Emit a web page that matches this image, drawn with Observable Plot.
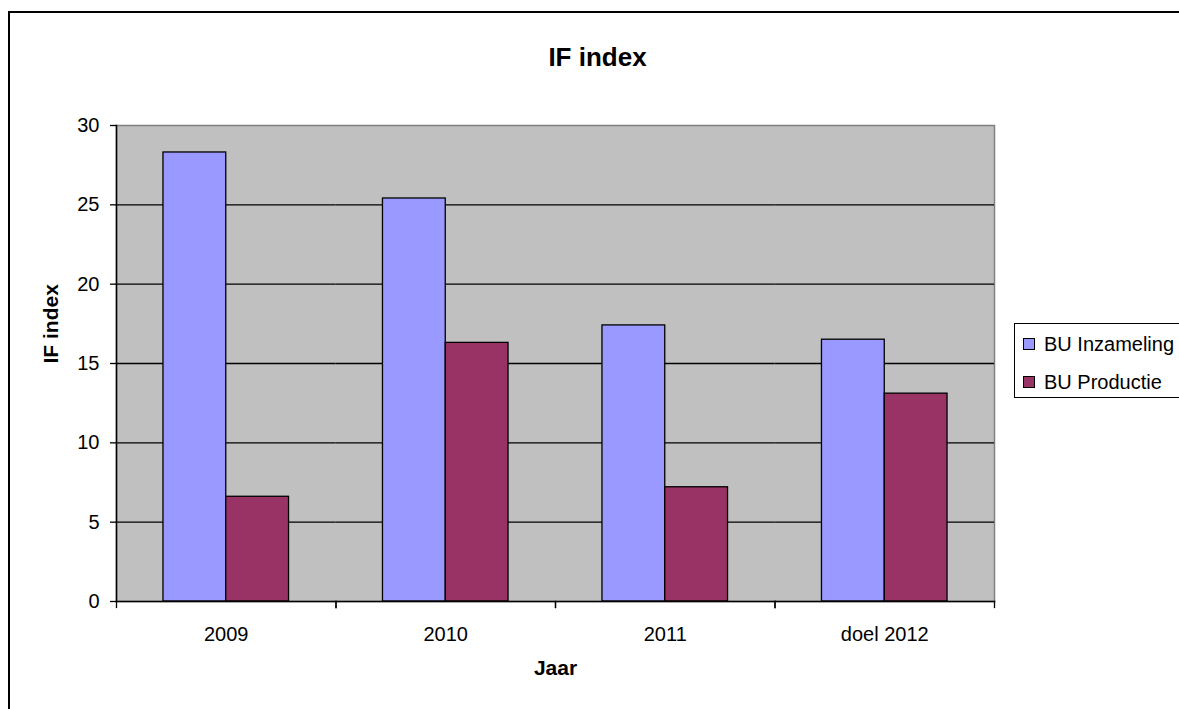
<!DOCTYPE html>
<html>
<head>
<meta charset="utf-8">
<script src="https://cdn.jsdelivr.net/npm/d3@7"></script>
<script src="https://cdn.jsdelivr.net/npm/@observablehq/plot@0.6"></script>
<style>
  html, body { margin: 0; padding: 0; background: #fff; }
  body { font-family: "Liberation Sans", Arial, sans-serif; }
  #wrap { position: relative; width: 1179px; height: 709px; overflow: hidden; }
  #border { position: absolute; left: 8px; top: 11px; width: 1300px; height: 800px;
            border-left: 2px solid #000; border-top: 2px solid #000; box-sizing: border-box; }
  #chart { position: absolute; left: 0; top: 0; }
  #legend { position: absolute; left: 1014px; top: 323px; width: 200px; height: 75px;
            border: 1px solid #000; box-sizing: border-box; background: #fff; }
  .item { position: absolute; left: 8px; height: 24px; display: flex; align-items: center;
          font-size: 20px; color: #000; white-space: nowrap; }
  .sw { width: 10px; height: 10px; border: 1px solid #000; margin-right: 9px; }
</style>
</head>
<body>
<div id="wrap">
  <div id="border"></div>
  <div id="chart"></div>
  <div id="legend"></div>
</div>
<script>
const years = ["2009", "2010", "2011", "doel 2012"];
const series = ["BU Inzameling", "BU Productie"];
const inzameling = [28.3, 25.4, 17.4, 16.5];
const productie = [6.6, 16.3, 7.2, 13.1];
const colors = ["#9999ff", "#993366"];
const yTicks = [0, 5, 10, 15, 20, 25, 30];
const gridTicks = [5, 10, 15, 20, 25];
const title = "IF index";
const yLabel = "IF index";
const xLabel = "Jaar";

const data = [];
years.forEach((yr, i) => {
  data.push({year: yr, series: series[0], value: inzameling[i]});
  data.push({year: yr, series: series[1], value: productie[i]});
});

const W = 1179, H = 709;
const mL = 116, mR = 185, mT = 125, mB = 108;
const plotH = H - mT - mB;

const chart = Plot.plot({
  width: W,
  height: H,
  marginLeft: mL,
  marginRight: mR,
  marginTop: mT,
  marginBottom: mB,
  style: {fontFamily: "'Liberation Sans', Arial, sans-serif", color: "#000", background: "transparent"},
  fx: {domain: years, padding: 0, axis: null, round: false},
  x: {type: "band", domain: series, paddingInner: 0, paddingOuter: 0.748, axis: null, round: false},
  y: {domain: [0, 30], axis: null},
  color: {domain: series, range: colors},
  marks: [
    Plot.frame({facet: "super", fill: "#c0c0c0", stroke: "#808080", strokeWidth: 1.5}),
    Plot.ruleY(gridTicks, {stroke: "#000", strokeWidth: 1.3}),
    Plot.barY(data, {fx: "year", x: "series", y: "value", fill: "series", stroke: "#000", strokeWidth: 1.3}),
    Plot.frame({facet: "super", anchor: "left", stroke: "#000", strokeWidth: 1.5}),
    Plot.frame({facet: "super", anchor: "bottom", stroke: "#000", strokeWidth: 1.5}),
    Plot.frame({anchor: "left", stroke: "#000", strokeWidth: 1.3, insetTop: plotH, insetBottom: -6}),
    Plot.frame({anchor: "right", stroke: "#000", strokeWidth: 1.3, insetTop: plotH, insetBottom: -6}),
    Plot.axisY({anchor: "left", ticks: yTicks, tickSize: 6, tickPadding: 11, fontSize: 20, label: null, strokeWidth: 1.3, tickFormat: d => String(d)}),
    Plot.axisFx({anchor: "bottom", tickSize: 0, tickPadding: 25, fontSize: 20, label: null}),
    Plot.text([yLabel], {facet: "super", frameAnchor: "left", rotate: -90, dx: -65, fontWeight: "bold", fontSize: 21, fill: "#000"}),
    Plot.text([xLabel], {facet: "super", frameAnchor: "bottom", dy: 73, fontWeight: "bold", fontSize: 21, fill: "#000"}),
    Plot.text([title], {facet: "super", frameAnchor: "top", dy: -78, dx: 42, fontWeight: "bold", fontSize: 26, fill: "#000"})
  ]
});
document.getElementById("chart").appendChild(chart);

const legend = document.getElementById("legend");
series.forEach((s, i) => {
  const item = document.createElement("div");
  item.className = "item";
  item.style.top = (8 + i * 38) + "px";
  const sw = document.createElement("div");
  sw.className = "sw";
  sw.style.background = colors[i];
  const label = document.createElement("span");
  label.textContent = s;
  item.appendChild(sw);
  item.appendChild(label);
  legend.appendChild(item);
});
</script>
</body>
</html>
